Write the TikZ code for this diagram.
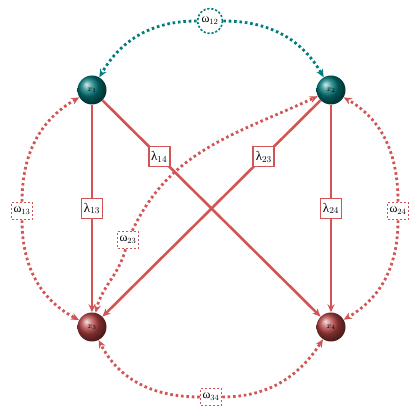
\documentclass[tikz,border=0pt]{standalone}
\usepackage{fontspec}
\usetikzlibrary{arrows.meta}
\newfontfamily\grk{Liberation Serif}
\definecolor{lred}{RGB}{210,85,85}
\definecolor{ballred}{RGB}{180,65,65}
\definecolor{lteal}{RGB}{0,125,125}
\definecolor{ballteal}{RGB}{0,120,120}
\newcommand{\glab}[2]{{\grk #1}$_{#2}$}
\begin{document}
\begin{tikzpicture}[x=1pt,y=1pt,
  ballt/.style={circle,minimum size=29pt,inner sep=0pt,ball color=ballteal,font=\fontsize{8}{9}\selectfont},
  ballr/.style={circle,minimum size=29pt,inner sep=0pt,ball color=ballred,font=\fontsize{8}{9}\selectfont},
  path/.style={draw=lred,line width=2.6pt,-{Stealth[length=8pt,width=7pt]}},
  lambox/.style={draw=lred,line width=1.8pt,fill=white,inner sep=2.5pt,minimum height=20pt,font=\fontsize{13}{15}\selectfont},
  covhalf/.style={draw=lred,line width=2.8pt,dash pattern=on 2.6pt off 2.8pt,-{Stealth[length=8pt,width=7pt]}},
  covbox/.style={draw=lred,line width=1.6pt,dash pattern=on 2.2pt off 1.8pt,fill=white,inner sep=2pt,minimum height=17pt,font=\fontsize{12}{14}\selectfont},
  covt/.style={draw=lteal,line width=2.8pt,dash pattern=on 2.6pt off 2.8pt,-{Stealth[length=8pt,width=7pt]}},
  covtcirc/.style={circle,draw=lteal,line width=1.6pt,dash pattern=on 2.2pt off 1.8pt,fill=white,inner sep=0.3pt,minimum size=25pt,font=\fontsize{12}{14}\selectfont}
]
\useasboundingbox (0,0) rectangle (420,420);
\node[ballt] (x1) at (92,330) {$x_1$};
\node[ballt] (x2) at (331,330) {$x_2$};
\node[ballr] (x3) at (92,93) {$x_3$};
\node[ballr] (x4) at (331,93) {$x_4$};

% omega nodes
\node[covtcirc] (w12) at (210,399) {\glab{ω}{12}};
\node[covbox] (w13) at (22,209) {\glab{ω}{13}};
\node[covbox] (w24) at (398,209) {\glab{ω}{24}};
\node[covbox] (w34) at (211,23) {\glab{ω}{34}};
\node[covbox] (w23) at (128,180) {\glab{ω}{23}};

% covariance arcs
\draw[covt] (w12) to[out=180,in=60] (x1);
\draw[covt] (w12) to[out=0,in=120] (x2);
\draw[covhalf] (w13) to[out=90,in=210] (x1);
\draw[covhalf] (w13) to[out=270,in=152] (x3);
\draw[covhalf] (w24) to[out=90,in=-30] (x2);
\draw[covhalf] (w24) to[out=270,in=30] (x4);
\draw[covhalf] (w34) to[out=180,in=-63] (x3);
\draw[covhalf] (w34) to[out=0,in=237] (x4);
\draw[covhalf] (w23) to[out=-105,in=76] (x3);
\draw[covhalf] (w23) to[out=65,in=205] (x2);

% loadings
\draw[path] (x1) -- node[lambox,pos=0.5] (l13) {\glab{λ}{13}} (x3);
\draw[path] (x1) -- node[lambox,pos=0.26] (l14) {\glab{λ}{14}} (x4);
\draw[path] (x2) -- node[lambox,pos=0.26] (l23) {\glab{λ}{23}} (x3);
\draw[path] (x2) -- node[lambox,pos=0.5] (l24) {\glab{λ}{24}} (x4);
\end{tikzpicture}
\end{document}
